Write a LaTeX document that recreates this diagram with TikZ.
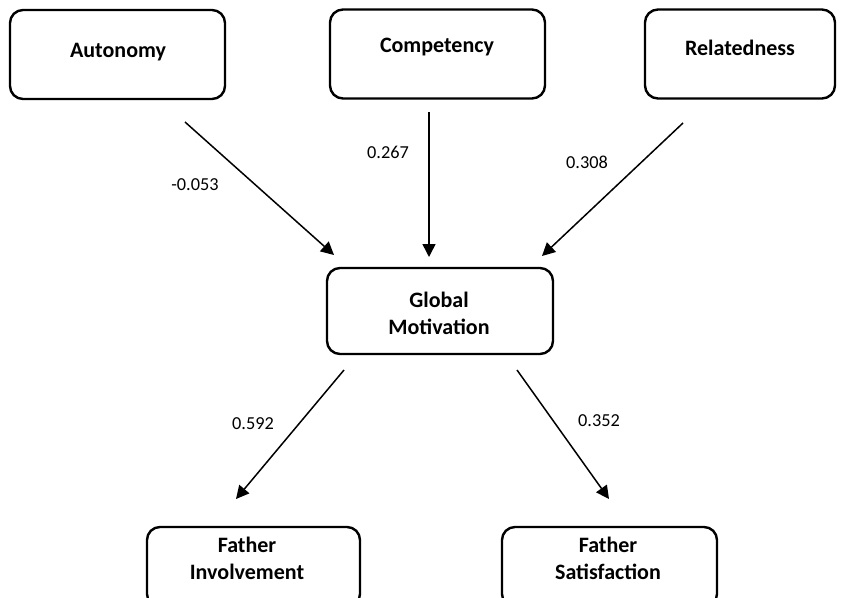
\documentclass[tikz,border=0pt]{standalone}
\usepackage{fontspec}
\setmainfont{Carlito}
\usetikzlibrary{arrows.meta}
\begin{document}
\begin{tikzpicture}[x=1pt,y=-1pt,
  box/.style={draw=black,line width=2.4pt,rounded corners=13pt,fill=white,inner sep=0pt},
  txt/.style={font=\fontsize{22}{27}\selectfont\bfseries,align=center,inner sep=0pt},
  conn/.style={line width=1.5pt,-{Triangle[length=13pt,width=13pt]}},
  lbl/.style={font=\fontsize{18.3}{21}\selectfont,inner sep=0pt}]
\useasboundingbox (0,0) rectangle (843,597);
\clip (0,0) rectangle (843,597);
\node[box,minimum width=215pt,minimum height=89pt] (auto) at (117.5,54.5) {};
\node[box,minimum width=215pt,minimum height=89pt] (comp) at (437.5,54) {};
\node[box,minimum width=190pt,minimum height=89pt] (rel) at (740,54) {};
\node[box,minimum width=226pt,minimum height=86pt] (glob) at (440,311) {};
\node[box,minimum width=213pt,minimum height=80pt] (fi) at (253.5,567) {};
\node[box,minimum width=215pt,minimum height=80pt] (fs) at (609.5,567) {};
\node[txt] (tauto) at (118,52) {Autonomy};
\node[txt] (tcomp) at (437,47) {Competency};
\node[txt] (trel) at (740,48) {Relatedness};
\node[txt] (tglob) at (439,313) {Global\\Motivation};
\node[txt] (tfi) at (247,558) {Father\\Involvement};
\node[txt] (tfs) at (608,558) {Father\\Satisfaction};
\coordinate (a1) at (185,122);
\coordinate (a2) at (334,255);
\coordinate (c1) at (429,112);
\coordinate (c2) at (429,257);
\coordinate (r1) at (683,123);
\coordinate (r2) at (542,256);
\coordinate (g1) at (344,370);
\coordinate (g2) at (236,499);
\coordinate (h1) at (517,370);
\coordinate (h2) at (609,499);
\draw[conn] (a1) -- (a2);
\draw[conn] (c1) -- (c2);
\draw[conn] (r1) -- (r2);
\draw[conn] (g1) -- (g2);
\draw[conn] (h1) -- (h2);
\node[lbl] (la) at (195,185) {-0.053};
\node[lbl] (lc) at (388,152) {0.267};
\node[lbl] (lr) at (587,162) {0.308};
\node[lbl] (lg) at (253,424) {0.592};
\node[lbl] (lh) at (599,421) {0.352};
\end{tikzpicture}
\end{document}
